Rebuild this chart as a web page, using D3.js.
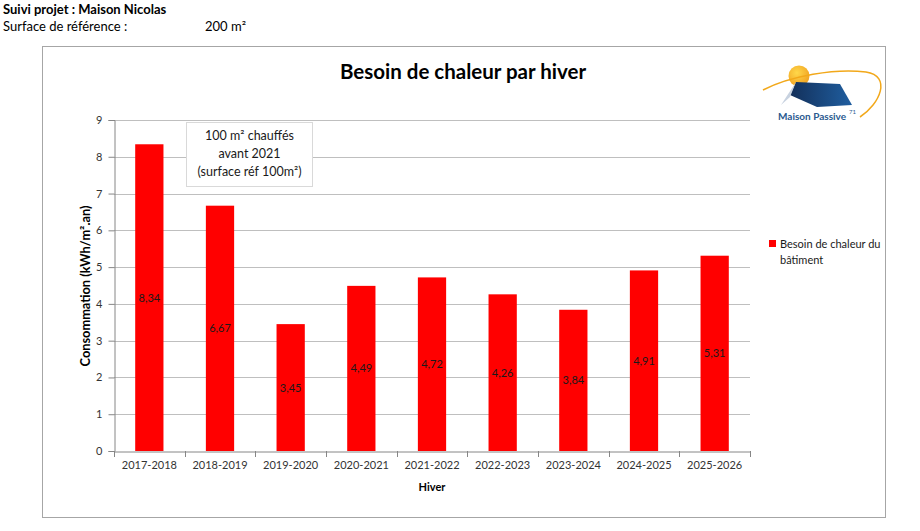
<!DOCTYPE html>
<html><head><meta charset="utf-8">
<script src="https://cdn.jsdelivr.net/npm/d3@7"></script>
<style>
body{margin:0;background:#fff;}
svg text{font-family:"Lato","Open Sans",sans-serif;}
</style></head>
<body>
<svg id="c" width="920" height="531"></svg>
<script>
const categories = ["2017-2018","2018-2019","2019-2020","2020-2021","2021-2022","2022-2023","2023-2024","2024-2025","2025-2026"];
const values = [8.34, 6.67, 3.45, 4.49, 4.72, 4.26, 3.84, 4.91, 5.31];
const yTicks = [0,1,2,3,4,5,6,7,8,9];
const seriesName = ["Besoin de chaleur du", "bâtiment"];
const title = "Besoin de chaleur par hiver";
const yTitle = "Consommation (kWh/m².an)";
const xTitle = "Hiver";
const noteLines = ["100 m² chauffés", "avant 2021", "(surface réf 100m²)"];

const svg = d3.select("#c");
// header
svg.append("text").attr("x",3).attr("y",14).attr("font-size",13).attr("font-weight","bold").attr("fill","#000").text("Suivi projet :  Maison Nicolas");
svg.append("text").attr("x",3).attr("y",31).attr("font-size",13).attr("fill","#000").text("Surface de référence :");
svg.append("text").attr("x",205).attr("y",31).attr("font-size",13).attr("fill","#000").text("200  m²");

// chart frame
svg.append("rect").attr("x",42.5).attr("y",46.5).attr("width",843).attr("height",471).attr("fill","#fff").attr("stroke","#a6a6a6").attr("stroke-width",1);

svg.append("text").attr("x",463).attr("y",79).attr("text-anchor","middle").attr("font-size",20.5).attr("font-weight","bold").attr("fill","#000").text(title);

const x = d3.scaleBand().domain(categories).range([114,750]).paddingInner(0.6).paddingOuter(0.3);
const xb = d3.scaleBand().domain(categories).range([114,750]);
const y = d3.scaleLinear().domain([0,9]).range([451,120]);

// gridlines
svg.append("g").selectAll("line").data(yTicks.filter(d=>d>0)).join("line")
  .attr("x1",114).attr("x2",750).attr("y1",d=>Math.round(y(d))+0.5).attr("y2",d=>Math.round(y(d))+0.5)
  .attr("stroke","#bfbfbf");

// bars
svg.append("g").selectAll("rect").data(values).join("rect")
  .attr("x",(d,i)=>x(categories[i])).attr("width",x.bandwidth())
  .attr("y",d=>y(d)).attr("height",d=>y(0)-y(d)).attr("fill","#ff0000");

// data labels
svg.append("g").selectAll("text").data(values).join("text")
  .attr("x",(d,i)=>x(categories[i])+x.bandwidth()/2).attr("y",d=>y(d/2)+4)
  .attr("text-anchor","middle").attr("font-size",11).attr("fill","#1a1a1a")
  .text(d=>d.toFixed(2).replace(".",","));

// y axis
const ya = d3.axisLeft(y).tickValues(yTicks).tickSize(6).tickPadding(6).tickFormat(d3.format("d"));
const gy = svg.append("g").attr("transform","translate(114.5,0)").call(ya);
gy.select(".domain").attr("stroke","#868686");
gy.selectAll(".tick line").attr("stroke","#868686");
gy.selectAll(".tick text").attr("font-size",11).attr("fill","#333").attr("font-family","Lato, sans-serif");

// x axis
const xa = d3.axisBottom(xb).tickSize(0).tickPadding(10);
const gx = svg.append("g").attr("transform","translate(0,451.5)").call(xa);
gx.select(".domain").attr("stroke","#868686");
gx.selectAll(".tick text").attr("font-size",11).attr("fill","#333").attr("font-family","Lato, sans-serif");
svg.append("g").selectAll("line").data(d3.range(categories.length+1)).join("line")
  .attr("x1",i=>Math.round(114+i*xb.step())+0.5).attr("x2",i=>Math.round(114+i*xb.step())+0.5)
  .attr("y1",451).attr("y2",457).attr("stroke","#868686");

// axis titles
svg.append("text").attr("transform","translate(90,286) rotate(-90)").attr("text-anchor","middle")
  .attr("font-size",12.8).attr("font-weight","bold").attr("fill","#000").text(yTitle);
svg.append("text").attr("x",432).attr("y",491).attr("text-anchor","middle")
  .attr("font-size",11).attr("font-weight","bold").attr("fill","#000").text(xTitle);

// note box
svg.append("rect").attr("x",186.5).attr("y",122.5).attr("width",126).attr("height",64).attr("fill","#fff").attr("stroke","#d9d9d9");
svg.append("g").selectAll("text").data(noteLines).join("text")
  .attr("x",249.5).attr("y",(d,i)=>140+i*18).attr("text-anchor","middle").attr("font-size",12.5).attr("fill","#1a1a1a").text(d=>d);

// legend
svg.append("rect").attr("x",769).attr("y",240).attr("width",7).attr("height",7).attr("fill","#ff0000");
svg.append("g").selectAll("text").data(seriesName).join("text")
  .attr("x",780).attr("y",(d,i)=>248+i*16).attr("font-size",11).attr("fill","#1a1a1a").text(d=>d);

// logo
const logo = svg.append("g");
const defs = svg.append("defs");
const sg = defs.append("radialGradient").attr("id","sun").attr("cx","40%").attr("cy","35%").attr("r","70%");
sg.append("stop").attr("offset","0%").attr("stop-color","#ffd84a");
sg.append("stop").attr("offset","100%").attr("stop-color","#f0a020");
const rg = defs.append("linearGradient").attr("id","roof").attr("x1","0").attr("x2","1").attr("y1","0").attr("y2","0");
rg.append("stop").attr("offset","0%").attr("stop-color","#13305a");
rg.append("stop").attr("offset","100%").attr("stop-color","#1f5ea0");
logo.append("circle").attr("cx",799).attr("cy",76).attr("r",10.5).attr("fill","url(#sun)");
logo.append("path").attr("d","M763,90 C790,76 835,68 866,72 C892,76 880,104 860,117").attr("fill","none").attr("stroke","#f2a81a").attr("stroke-width",1.5);
logo.append("path").attr("d","M790,95 L796,82 L840,84 L852,105 L817,107 Z").attr("fill","url(#roof)");
logo.append("path").attr("d","M781,105 L796,82 L790,97 Z").attr("fill","#c8d2e0");
logo.append("text").attr("x",778).attr("y",120).attr("font-size",10).attr("font-weight","bold").attr("fill","#2a5a8f").attr("font-family","Liberation Sans, Arial, sans-serif").text("Maison Passive");
logo.append("text").attr("x",849).attr("y",114).attr("font-size",6).attr("fill","#2a5a8f").text("71");
</script>
</body></html>
